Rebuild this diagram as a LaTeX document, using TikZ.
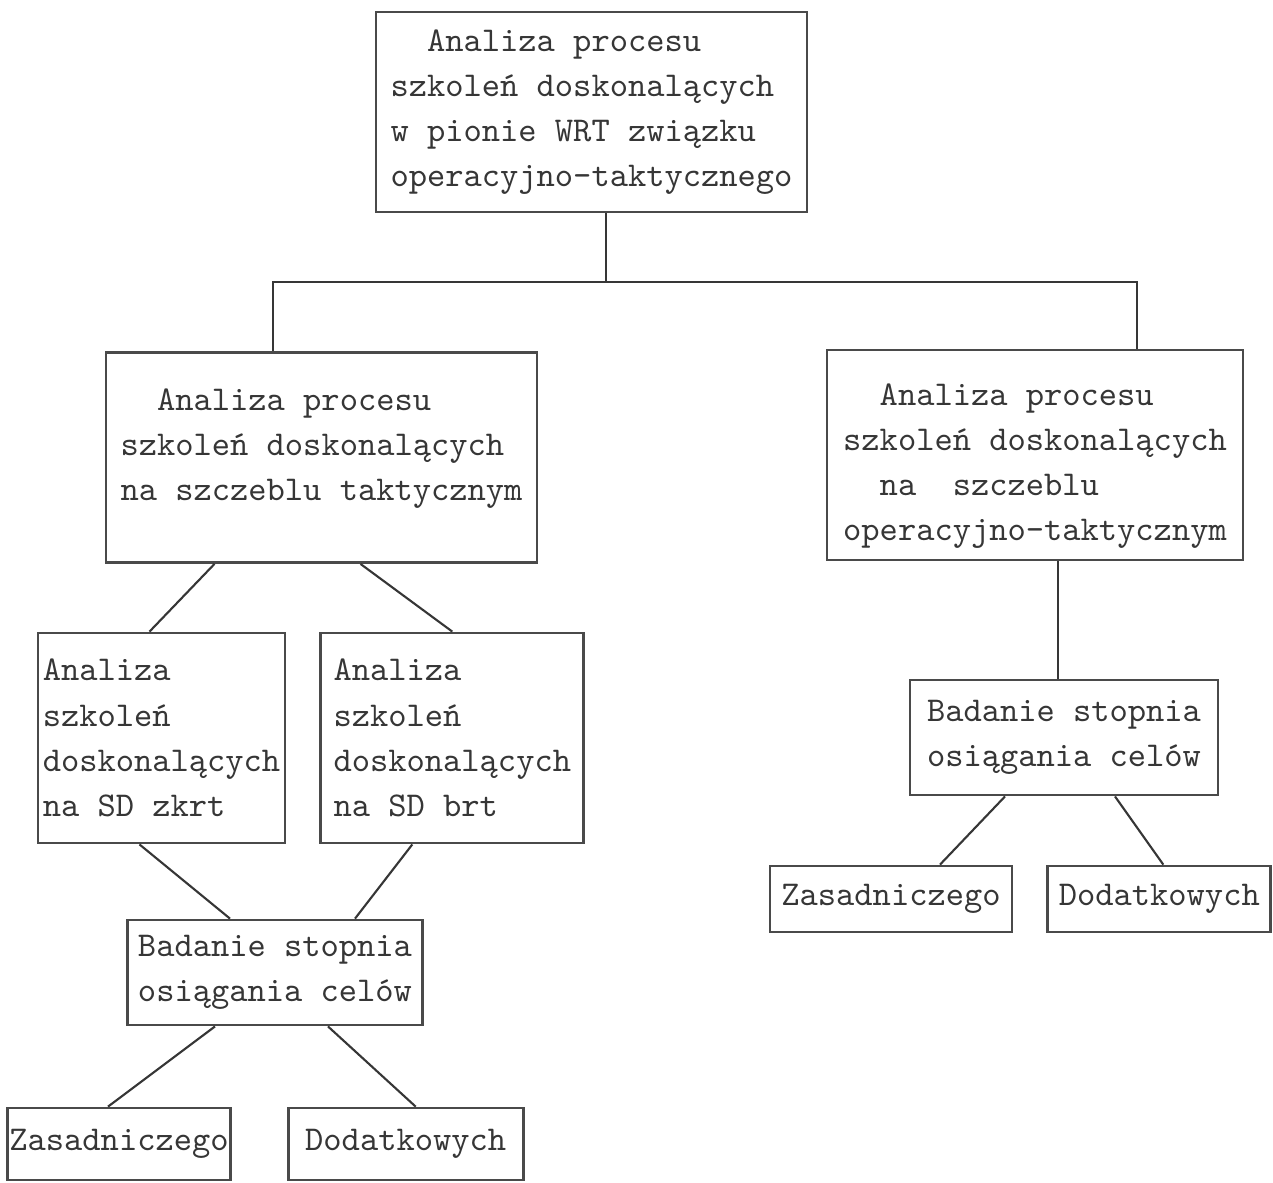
\documentclass[tikz,border=0pt]{standalone}
\usepackage{tikz}
\usetikzlibrary{positioning}
\definecolor{typeink}{HTML}{363636}
\definecolor{frameink}{HTML}{4A4A4A}
\newcommand{\typew}{\ttfamily\fontsize{9.9pt}{12.85pt}\selectfont}

\begin{document}
\begin{tikzpicture}[
      node distance=0.33cm,
      tbox/.style={draw=frameink,line width=0.8pt,align=left,inner sep=3pt,
                   text=typeink,font=\typew},
      link/.style={draw=typeink,line width=0.6pt}]
    \useasboundingbox (0,0) rectangle (12.73,-11.82);
    % level 0
    \node[tbox,minimum width=4.31cm,minimum height=2.00cm] (top) at (5.915,-1.12)
      {~~Analiza procesu\\szkoleń doskonalących\\w pionie WRT związku\\operacyjno-taktycznego};
    % level 1
    \node[tbox,minimum width=4.31cm,minimum height=2.10cm] (tact) at (3.215,-4.575)
      {~~Analiza procesu\\szkoleń doskonalących\\na szczeblu taktycznym\rule[-7.5pt]{0pt}{7.5pt}};
    \node[tbox,minimum width=4.16cm,minimum height=2.10cm] (optac) at (10.35,-4.55)
      {\rule{0pt}{12.5pt}~~Analiza procesu\\szkoleń doskonalących\\~~na~~szczeblu\\operacyjno-taktycznym};
    % level 2, left branch
    \node[tbox,inner xsep=1pt,minimum width=2.47cm,minimum height=2.10cm] (zkrt) at (1.615,-7.38)
      {Analiza\\szkoleń\\doskonalących\\na SD zkrt};
    \node[tbox,minimum width=2.63cm,minimum height=2.10cm,right=of zkrt] (brt)
      {Analiza\\szkoleń\\doskonalących\\na SD brt};
    \node[tbox,minimum width=2.90cm,minimum height=1.05cm] (badL) at (2.75,-9.725)
      {Badanie stopnia\\osiągania celów};
    \node[tbox,inner xsep=0.5pt,minimum width=2.18cm,minimum height=0.72cm] (zasL) at (1.19,-11.44)
      {Zasadniczego};
    \node[tbox,minimum width=2.35cm,minimum height=0.72cm,right=0.55cm of zasL] (dodL)
      {Dodatkowych};
    % level 2, right branch
    \node[tbox,minimum width=3.08cm,minimum height=1.15cm] (badR) at (10.64,-7.375)
      {Badanie stopnia\\osiągania celów};
    \node[tbox,minimum width=2.42cm,minimum height=0.66cm] (zasR) at (8.91,-8.99)
      {Zasadniczego};
    \node[tbox,minimum width=2.23cm,minimum height=0.66cm,right=of zasR] (dodR)
      {Dodatkowych};
    % connectors
    \coordinate (split) at (6.06,-2.82);
    \coordinate (jl) at (2.73,-2.82);
    \coordinate (jr) at (11.37,-2.82);
    \draw[link] (top.south -| split) -- (split);
    \draw[link] (jl |- tact.north) -- (jl) -- (jr) -- (jr |- optac.north);
    \draw[link] ([xshift=-1.07cm]tact.south) -- ([xshift=-0.12cm]zkrt.north);
    \draw[link] ([xshift=0.39cm]tact.south) -- (brt.north);
    \draw[link] ([xshift=-0.22cm]zkrt.south) -- ([xshift=-0.45cm]badL.north);
    \draw[link] ([xshift=-0.40cm]brt.south) -- ([xshift=0.80cm]badL.north);
    \draw[link] ([xshift=-0.60cm]badL.south) -- ([xshift=-0.11cm]zasL.north);
    \draw[link] ([xshift=0.53cm]badL.south) -- ([xshift=0.10cm]dodL.north);
    \draw[link] ([xshift=0.23cm]optac.south) -- ([xshift=-0.06cm]badR.north);
    \draw[link] ([xshift=-0.59cm]badR.south) -- ([xshift=0.49cm]zasR.north);
    \draw[link] ([xshift=0.51cm]badR.south) -- ([xshift=0.04cm]dodR.north);
  \end{tikzpicture}
\end{document}
